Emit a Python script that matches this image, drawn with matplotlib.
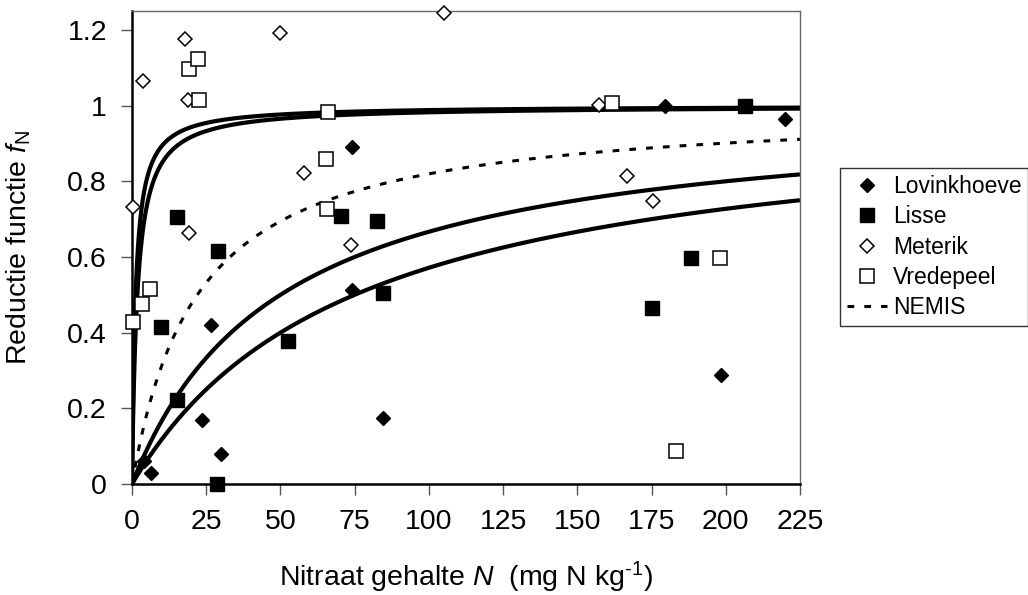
import numpy as np
import matplotlib
matplotlib.use("Agg")
import matplotlib.pyplot as plt

plt.rcParams['font.family'] = ['Liberation Sans', 'DejaVu Sans']
plt.rcParams['mathtext.fontset'] = 'custom'
plt.rcParams['mathtext.rm'] = 'Liberation Sans'
plt.rcParams['mathtext.it'] = 'Liberation Sans:italic'
plt.rcParams['mathtext.bf'] = 'Liberation Sans:bold'

# ---- data ----
lovink_N = [4.0, 6.5, 23.7, 26.5, 30.0, 74.2, 74.2, 84.6, 179.5, 198.5, 220.0]
lovink_f = [0.06, 0.03, 0.169, 0.42, 0.079, 0.891, 0.514, 0.174, 0.999, 0.288, 0.964]

lisse_N = [9.8, 15.0, 15.3, 28.5, 28.8, 52.6, 70.4, 82.4, 84.6, 175.0, 188.2, 206.6]
lisse_f = [0.416, 0.706, 0.222, 0.0, 0.616, 0.378, 0.709, 0.695, 0.504, 0.466, 0.596, 1.0]

meterik_N = [0.4, 3.7, 17.8, 18.7, 19.2, 49.9, 58.0, 73.6, 105.2, 157.2, 166.8, 175.5]
meterik_f = [0.733, 1.066, 1.175, 1.014, 0.662, 1.193, 0.821, 0.631, 1.246, 1.001, 0.814, 0.748]

vrede_N = [0.4, 3.3, 6.1, 19.2, 22.1, 22.7, 65.5, 65.8, 66.1, 161.7, 183.4, 198.0]
vrede_f = [0.429, 0.477, 0.515, 1.096, 1.122, 1.015, 0.860, 0.726, 0.984, 1.006, 0.088, 0.596]

# Michaelis-Menten half-saturation constants of the drawn curves (mg N/kg)
fit_K = [1.2, 1.8, 50.0, 75.0]
nemis_K = 22.0

x_ticks = [0, 25, 50, 75, 100, 125, 150, 175, 200, 225]
y_ticks = [0, 0.2, 0.4, 0.6, 0.8, 1.0, 1.2]
y_ticklabels = ['0', '0.2', '0.4', '0.6', '0.8', '1', '1.2']

# ---- figure ----
W, H = 1028, 595
fig = plt.figure(figsize=(W/100, H/100), dpi=100)
ax = fig.add_axes([132/W, 1-484/H, (800-132)/W, (484-11)/H])

Ngrid = np.linspace(0, 225, 2000)
for K in fit_K:
    ax.plot(Ngrid, Ngrid/(K+Ngrid), color='black', lw=3.0, solid_capstyle='butt', zorder=2)
nem, = ax.plot(Ngrid, Ngrid/(nemis_K+Ngrid), color='black', lw=2.2,
               dashes=(2.2, 3.3), zorder=2, label='NEMIS')

h1, = ax.plot(lovink_N, lovink_f, ls='none', marker='D', ms=7.6, mfc='black',
              mec='black', mew=1, label='Lovinkhoeve', zorder=3, clip_on=False)
h2, = ax.plot(lisse_N, lisse_f, ls='none', marker='s', ms=10.0, mfc='black',
              mec='black', mew=1, label='Lisse', zorder=3, clip_on=False)
h3, = ax.plot(meterik_N, meterik_f, ls='none', marker='D', ms=7.6, mfc='white',
              mec='black', mew=1.1, label='Meterik', zorder=3, clip_on=False)
h4, = ax.plot(vrede_N, vrede_f, ls='none', marker='s', ms=10.0, mfc='white',
              mec='black', mew=1.1, label='Vredepeel', zorder=3, clip_on=False)

ax.set_xlim(0, 225)
ax.set_ylim(0, 1.25)
ax.set_xticks(x_ticks)
ax.set_yticks(y_ticks)
ax.set_yticklabels(y_ticklabels)
ax.tick_params(direction='out', length=8, width=1, color='#555555',
               labelsize=20.5, pad=10)

for s in ['top', 'right']:
    ax.spines[s].set_color('#666666')
    ax.spines[s].set_linewidth(1)
for s in ['left', 'bottom']:
    ax.spines[s].set_color('black')
    ax.spines[s].set_linewidth(1.8)

ax.set_xlabel(r'Nitraat gehalte $N$  (mg N kg$^{\text{-1}}$)', fontsize=20.5)
ax.set_ylabel(r'Reductie functie $f_\mathrm{N}$', fontsize=20.5)
ax.xaxis.set_label_coords(0.5, -(560-484)/473)
ax.yaxis.set_label_coords(-(132-33)/668, 0.5)

leg = fig.legend(handles=[h1, h2, h3, h4, nem],
                 loc='upper left', bbox_to_anchor=(840/W, 1-168/H),
                 bbox_transform=fig.transFigure, fontsize=16.5,
                 frameon=True, fancybox=False, edgecolor='black',
                 handlelength=1.75, handletextpad=0.25, labelspacing=0.32,
                 borderpad=0.3, borderaxespad=0, numpoints=1)
leg.get_frame().set_linewidth(1)

fig.savefig('out.png', dpi=100)
